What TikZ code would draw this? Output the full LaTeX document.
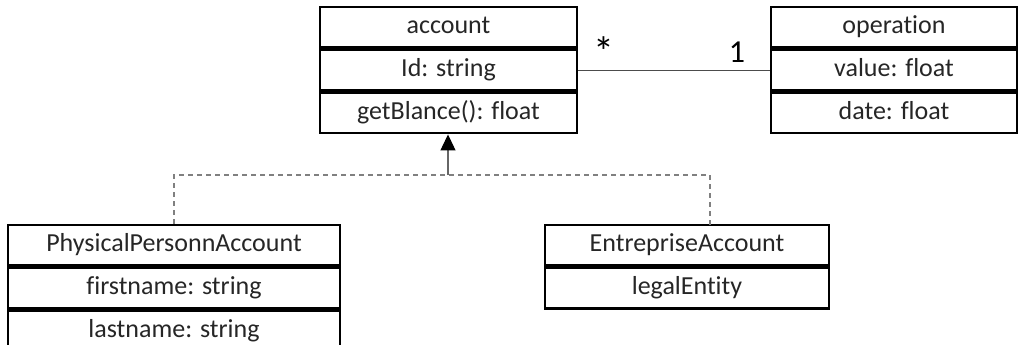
\documentclass[tikz,border=0pt]{standalone}
\usepackage{fontspec}
\setmainfont[RawFeature={-liga;-clig;-dlig;-rlig;-calt}]{Carlito}
\usetikzlibrary{positioning,arrows.meta}

\tikzset{
  classbox/.style={draw, line width=2.6pt, rectangle, inner sep=0pt, minimum height=40.3pt,
    text height=18pt, text depth=6pt, font=\fontsize{26}{30}\selectfont, text=black!85},
  mult/.style={inner sep=0pt, font=\fontsize{32}{36}\selectfont},
  realize/.style={draw=black!50, line width=1.4pt, dash pattern=on 5pt off 4pt},
}

\begin{document}
\begin{tikzpicture}[x=1pt, y=-1pt]
  \useasboundingbox (0,0) rectangle (1019,345);
  % account
  \node[classbox, minimum width=257pt] (acc) at (448.5,27.2) {account};
  \node[classbox, minimum width=257pt, below=0pt of acc] (accid) {Id: string};
  \node[classbox, minimum width=257pt, below=0pt of accid] (accget) {getBlance(): float};
  % operation
  \node[classbox, minimum width=246pt] (op) at (894,27.2) {operation};
  \node[classbox, minimum width=246pt, below=0pt of op] (opval) {value: float};
  \node[classbox, minimum width=246pt, below=0pt of opval] (opdate) {date: float};
  % subclasses
  \node[classbox, minimum width=332pt] (ppa) at (174,245.2) {PhysicalPersonnAccount};
  \node[classbox, minimum width=332pt, below=0pt of ppa] (ppafirst) {firstname: string};
  \node[classbox, minimum width=332pt, below=0pt of ppafirst] (ppalast) {lastname: string};
  \node[classbox, minimum width=284pt] (ea) at (687,245.2) {EntrepriseAccount};
  \node[classbox, minimum width=284pt, below=0pt of ea] (ealegal) {legalEntity};

  % association
  \draw[black!70, line width=1.2pt] (accid.east) -- (opval.west);
  \node[mult, font=\fontsize{42}{44}\selectfont] (many) at (604,52) {*};
  \node[mult] (one) at (737,52.5) {1};

  % realization
  \coordinate (joint) at (448,175);
  \coordinate (eatop) at (710,225);
  \draw[realize] (ppa.north) |- (joint) -| (eatop);
  \draw[black!60, line width=1.2pt, -{Triangle[width=15pt,length=16pt,color=black]}] (joint) -- (accget.south -| joint);
\end{tikzpicture}
\end{document}
